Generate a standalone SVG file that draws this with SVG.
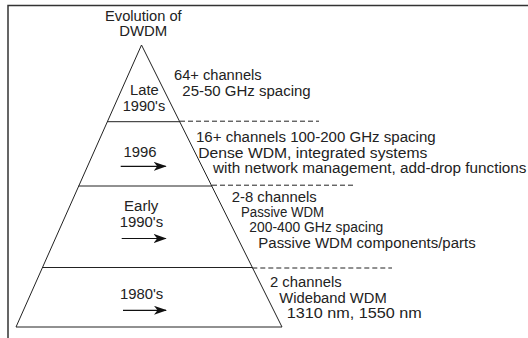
<svg xmlns="http://www.w3.org/2000/svg" width="528" height="338" viewBox="0 0 528 338">
<defs>
<marker id="ah" markerUnits="userSpaceOnUse" markerWidth="14" markerHeight="10" refX="12" refY="4.5" orient="auto">
<path d="M0,0 L13,4.5 L0,9 L3.5,4.5 z" fill="#111"/>
</marker>
</defs>
<style>
text{font-family:"Liberation Sans",Arial,sans-serif;font-size:14px;fill:#222}
.ln{stroke:#222;stroke-width:1;fill:none}
.ds{stroke:#222;stroke-width:1;fill:none;stroke-dasharray:5 3}
.ar{stroke:#111;stroke-width:1.2;fill:none;marker-end:url(#ah)}
.fr{stroke:#333;stroke-width:1.5;fill:none}
</style>
<rect width="528" height="338" fill="#fff"/>
<g id="frame">
<path class="fr" d="M8,338 L8,5.5 L528,5.5"/>
</g>
<g id="title">
<text x="105" y="20.5" textLength="76.7" lengthAdjust="spacingAndGlyphs">Evolution of</text>
<text x="119.3" y="36" textLength="48" lengthAdjust="spacingAndGlyphs">DWDM</text>
</g>
<g id="pyramid">
<path class="ln" d="M141.5,45 L16,327 L282,327 Z"/>
</g>
<g id="connectors">
<line class="ln" x1="107.4" y1="121.7" x2="180" y2="121.7"/>
<line class="ln" x1="78.6" y1="186" x2="212" y2="186"/>
<line class="ln" x1="42.6" y1="267.5" x2="252.3" y2="267.5"/>
<line class="ds" x1="180" y1="121.2" x2="319" y2="121.2"/>
<line class="ds" x1="212" y1="185.2" x2="356" y2="185.2"/>
<line class="ds" x1="252.3" y1="268" x2="392" y2="268"/>
<line class="ar" x1="120.7" y1="166.3" x2="165.7" y2="166.3"/>
<line class="ar" x1="121.7" y1="238.5" x2="165.7" y2="238.5"/>
<line class="ar" x1="123" y1="310.3" x2="166" y2="310.3"/>
</g>
<g id="late1990s">
<text x="130" y="95" textLength="28.7" lengthAdjust="spacingAndGlyphs">Late</text>
<text x="122.7" y="110.5" textLength="42.5" lengthAdjust="spacingAndGlyphs">1990's</text>
<text x="174" y="80" textLength="87.7" lengthAdjust="spacingAndGlyphs">64+ channels</text>
<text x="182.3" y="96" textLength="128.4" lengthAdjust="spacingAndGlyphs">25-50 GHz spacing</text>
</g>
<g id="y1996">
<text x="123.5" y="157.3" textLength="33" lengthAdjust="spacingAndGlyphs">1996</text>
<text x="196" y="142.3" textLength="239.7" lengthAdjust="spacingAndGlyphs">16+ channels 100-200 GHz spacing</text>
<text x="198.3" y="157.5" textLength="229" lengthAdjust="spacingAndGlyphs">Dense WDM, integrated systems</text>
<text x="213" y="172.7" textLength="313.5" lengthAdjust="spacingAndGlyphs">with network management, add-drop functions</text>
</g>
<g id="early1990s">
<text x="124" y="211" textLength="34.3" lengthAdjust="spacingAndGlyphs">Early</text>
<text x="119.7" y="226.7" textLength="43.5" lengthAdjust="spacingAndGlyphs">1990's</text>
<text x="231.7" y="201.7" textLength="85" lengthAdjust="spacingAndGlyphs">2-8 channels</text>
<text x="241" y="217" textLength="83" lengthAdjust="spacingAndGlyphs">Passive WDM</text>
<text x="249.3" y="232.3" textLength="134" lengthAdjust="spacingAndGlyphs">200-400 GHz spacing</text>
<text x="258.3" y="247.6" textLength="217.4" lengthAdjust="spacingAndGlyphs">Passive WDM components/parts</text>
</g>
<g id="y1980s">
<text x="120" y="299" textLength="43.3" lengthAdjust="spacingAndGlyphs">1980's</text>
<text x="270" y="286.7" textLength="71.7" lengthAdjust="spacingAndGlyphs">2 channels</text>
<text x="279.3" y="302.7" textLength="107.4" lengthAdjust="spacingAndGlyphs">Wideband WDM</text>
<text x="286.7" y="318.3" textLength="135" lengthAdjust="spacingAndGlyphs">1310 nm, 1550 nm</text>
</g>
</svg>
